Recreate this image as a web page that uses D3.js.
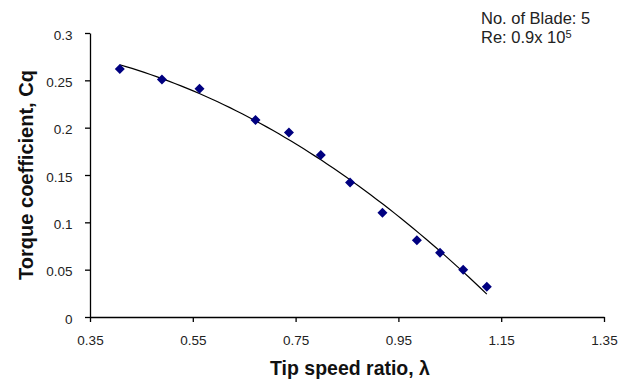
<!DOCTYPE html>
<html>
<head>
<meta charset="utf-8">
<script src="https://cdn.jsdelivr.net/npm/d3@7"></script>
<style>
  body { margin: 0; background: #fff; }
  svg { font-family: "Liberation Sans", Arial, sans-serif; }
</style>
</head>
<body>
<div id="chart"></div>
<script>
// data
const tsr = [0.408, 0.490, 0.563, 0.672, 0.737, 0.799, 0.856, 0.919, 0.986, 1.031, 1.076, 1.122];
const cq  = [0.262, 0.251, 0.241, 0.208, 0.195, 0.171, 0.142, 0.110, 0.081, 0.068, 0.050, 0.032];
const xTicks = [0.35, 0.55, 0.75, 0.95, 1.15, 1.35];
const yTicks = [0, 0.05, 0.1, 0.15, 0.2, 0.25, 0.3];

const width = 620, height = 389;
const margin = { top: 33, right: 16, bottom: 72, left: 90 };

const svg = d3.select("#chart").append("svg")
    .attr("width", width)
    .attr("height", height);

const x = d3.scaleLinear().domain([0.35, 1.35]).range([margin.left, width - margin.right]);
const y = d3.scaleLinear().domain([0, 0.3]).range([height - margin.bottom, margin.top]);

// fit a text element to a given width by changing its font size
function fitWidth(sel, target) {
    const len = sel.node().getComputedTextLength();
    const fs = parseFloat(sel.style("font-size"));
    sel.style("font-size", (fs * target / len) + "px");
}

// axes
const xAxis = svg.append("g")
    .attr("transform", `translate(0, ${y(0)})`)
    .call(d3.axisBottom(x).tickValues(xTicks).tickFormat(d => d).tickSize(5).tickSizeOuter(0));
xAxis.selectAll("text").attr("dy", "1.5em");

const yAxis = svg.append("g")
    .attr("transform", `translate(${x(0.35)}, 0)`)
    .call(d3.axisLeft(y).tickValues(yTicks).tickFormat(d => d).tickSize(5).tickSizeOuter(0));
yAxis.selectAll("text").attr("dx", "-0.7em").attr("dy", "0.45em");

svg.selectAll(".domain").attr("stroke", "#000").attr("stroke-width", 1.3);
svg.selectAll(".tick line").attr("stroke", "#000").attr("stroke-width", 1.3);
svg.selectAll(".tick text").style("font-size", "13.5px").attr("fill", "#222");

// 2nd order polynomial trendline (least squares)
function polyfit2(xs, ys) {
    let n = xs.length, s = [0, 0, 0, 0, 0], t = [0, 0, 0];
    for (let i = 0; i < n; i++) {
        let p = 1;
        for (let k = 0; k < 5; k++) { s[k] += p; if (k < 3) t[k] += p * ys[i]; p *= xs[i]; }
    }
    const A = [[s[0], s[1], s[2], t[0]], [s[1], s[2], s[3], t[1]], [s[2], s[3], s[4], t[2]]];
    for (let i = 0; i < 3; i++) {
        for (let j = i + 1; j < 3; j++) {
            const f = A[j][i] / A[i][i];
            for (let k = i; k < 4; k++) A[j][k] -= f * A[i][k];
        }
    }
    const c = [0, 0, 0];
    for (let i = 2; i >= 0; i--) {
        let v = A[i][3];
        for (let k = i + 1; k < 3; k++) v -= A[i][k] * c[k];
        c[i] = v / A[i][i];
    }
    return c;
}
const coef = polyfit2(tsr, cq);
const xs = d3.range(0, 61).map(i => tsr[0] + (tsr[tsr.length - 1] - tsr[0]) * i / 60);
svg.append("path")
    .datum(xs)
    .attr("fill", "none")
    .attr("stroke", "#000")
    .attr("stroke-width", 1.2)
    .attr("d", d3.line().x(d => x(d)).y(d => y(coef[0] + coef[1] * d + coef[2] * d * d)));

// markers
svg.selectAll(".pt")
    .data(tsr.map((d, i) => ({ x: d, y: cq[i] })))
    .enter()
    .append("path")
    .attr("class", "pt")
    .attr("transform", d => `translate(${x(d.x)}, ${y(d.y)})`)
    .attr("d", "M0,-5L5,0L0,5L-5,0Z")
    .attr("fill", "#000080");

// axis titles
const xTitle = svg.append("text")
    .attr("x", 350)
    .attr("y", 375)
    .attr("text-anchor", "middle")
    .style("font-size", "16px")
    .style("font-weight", "bold")
    .attr("fill", "#111")
    .text("Tip speed ratio, λ");
fitWidth(xTitle, 160);

const yTitle = svg.append("text")
    .attr("transform", "rotate(-90)")
    .attr("x", -175)
    .attr("y", 33)
    .attr("text-anchor", "middle")
    .style("font-size", "16px")
    .style("font-weight", "bold")
    .attr("fill", "#111")
    .text("Torque coefficient, Cq");
fitWidth(yTitle, 210);

// annotation
svg.append("text")
    .attr("x", 481)
    .attr("y", 24)
    .style("font-size", "16.5px")
    .attr("fill", "#222")
    .text("No. of Blade: 5");

const re = svg.append("text")
    .attr("x", 481)
    .attr("y", 43)
    .style("font-size", "16.5px")
    .attr("fill", "#222");
re.append("tspan").text("Re: 0.9x 10");
re.append("tspan").attr("dy", -5).style("font-size", "11px").text("5");
</script>
</body>
</html>
